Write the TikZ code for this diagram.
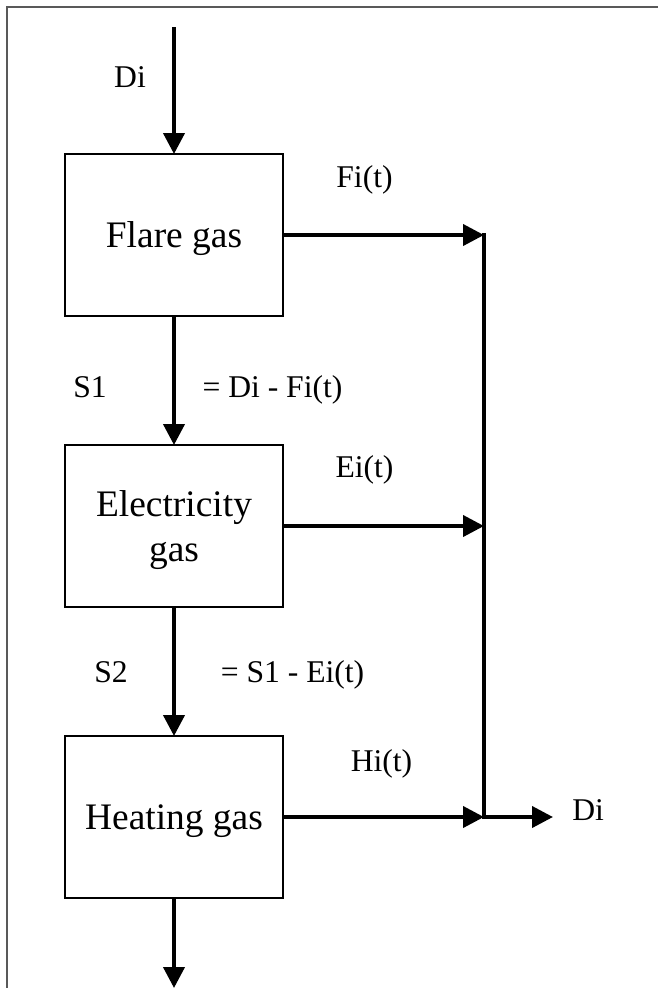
\documentclass[tikz,border=0pt]{standalone}
\usepackage{fontspec}
\setmainfont{Liberation Serif}
\usetikzlibrary{arrows.meta}

\begin{document}
\begin{tikzpicture}[
		procnode/.style={draw, line width=1.4pt, rectangle, minimum width=4.36cm, minimum height=3.24cm, inner sep=0pt, outer sep=0pt, text depth=0pt, align=center, font=\fontsize{21.3}{25.6}\selectfont},
		lbl/.style={inner sep=0pt, anchor=base, font=\fontsize{18}{21.6}\selectfont},
		flow/.style={-{Triangle[length=0.42cm, width=0.42cm]}, line width=2.3pt},
		frame/.style={draw=black!65, line width=1pt}
		]
		
		\useasboundingbox (0,0) rectangle (13.16,-19.76);
		\draw[frame] (13.16,-0.14) -- (0.14,-0.14) -- (0.14,-19.76);
		
		% ----- Gas streams -----
		\node[procnode] (flare) at (3.48,-4.70) {Flare gas};
		\node[procnode] (elec) at (3.48,-10.52) {Electricity\\gas};
		\node[procnode] (heat) at (3.48,-16.34) {Heating gas};
		
		% Free ends
		\coordinate (src) at (3.48,-0.54);
		\coordinate (sink) at (3.48,-19.76);
		\coordinate (jf) at (9.68,-4.70);
		\coordinate (je) at (9.68,-10.52);
		\coordinate (jh) at (9.68,-16.34);
		\coordinate (out) at (11.06,-16.34);
		
		% Main line
		\draw[flow] (src) -- (flare);
		\draw[flow] (flare) -- (elec);
		\draw[flow] (elec) -- (heat);
		\draw[flow] (heat) -- (sink);
		
		% Side streams
		\draw[flow] (flare) -- (jf);
		\draw[flow] (elec) -- (je);
		\draw[flow] (heat) -- (jh);
		\draw[line width=2.3pt, line cap=rect] (jf) -- (jh);
		\draw[flow] (jh) -- (out);
		
		% Labels
		\node[lbl] (ldi) at (2.60,-1.74) {Di};
		\node[lbl] (lfi) at (7.29,-3.74) {Fi(t)};
		\node[lbl] (lei) at (7.29,-9.54) {Ei(t)};
		\node[lbl] (lhi) at (7.63,-15.42) {Hi(t)};
		\node[lbl] (ls1) at (1.80,-7.94) {S1};
		\node[lbl] (ls1eq) at (5.45,-7.94) {= Di - Fi(t)};
		\node[lbl] (ls2) at (2.22,-13.64) {S2};
		\node[lbl] (ls2eq) at (5.85,-13.64) {= S1 - Ei(t)};
		\node[lbl, anchor=base west] (ldo) at (11.44,-16.40) {Di};
		
	\end{tikzpicture}
\end{document}
